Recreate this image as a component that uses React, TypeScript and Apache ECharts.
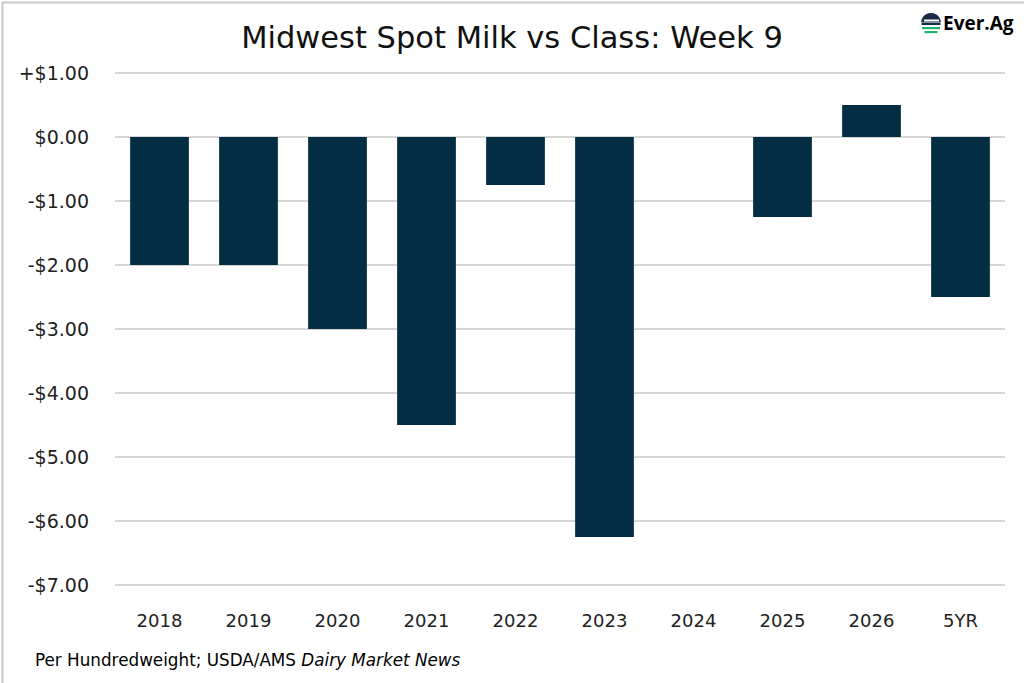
import React, { useEffect, useRef } from "react";
import * as echarts from "echarts";

const categories = ["2018", "2019", "2020", "2021", "2022", "2023", "2024", "2025", "2026", "5YR"];
const values = [-2.0, -2.0, -3.0, -4.5, -0.75, -6.25, 0, -1.25, 0.5, -2.5];
const yTicks = { min: -7, max: 1, interval: 1 };
const titleText = "Midwest Spot Milk vs Class: Week 9";
const sourcePlain = "Per Hundredweight; USDA/AMS ";
const sourceItalic = "Dairy Market News";

const FONT = "'DejaVu Sans', 'Open Sans', sans-serif";

function fmt(v: number): string {
  if (v > 0) return "+$" + v.toFixed(2);
  if (v < 0) return "-$" + Math.abs(v).toFixed(2);
  return "$0.00";
}

export default function App() {
  const ref = useRef<HTMLDivElement>(null);
  useEffect(() => {
    document.body.style.margin = "0";
    if (!ref.current) return;
    const chart = echarts.init(ref.current, null, { renderer: "svg" });
    chart.setOption({
      animation: false,
      backgroundColor: "#ffffff",
      title: {
        text: titleText,
        left: "center",
        top: 17,
        textStyle: { fontFamily: FONT, fontSize: 30.5, fontWeight: "normal", color: "#111" },
      },
      grid: { left: 115, right: 19, top: 73, bottom: 98, containLabel: false },
      xAxis: {
        type: "category",
        data: categories,
        axisLine: { show: false },
        axisTick: { show: false },
        axisLabel: { fontFamily: FONT, fontSize: 18, color: "#222", margin: 26 },
      },
      yAxis: {
        type: "value",
        min: yTicks.min,
        max: yTicks.max,
        interval: yTicks.interval,
        axisLine: { show: false },
        axisTick: { show: false },
        splitLine: { lineStyle: { color: "#c9c9c9", width: 1.5 } },
        axisLabel: { fontFamily: FONT, fontSize: 19, color: "#222", margin: 26, formatter: fmt },
      },
      series: [
        {
          type: "bar",
          data: values,
          barCategoryGap: "34%",
          itemStyle: { color: "#032d42" },
        },
      ],
      graphic: [
        {
          type: "rect",
          left: 0,
          top: 0,
          shape: { x: 0, y: 0, width: 1023, height: 682 },
          style: { fill: "none", stroke: "#c8c8c8", lineWidth: 2 },
          silent: true,
        },
        {
          type: "text",
          left: 35,
          top: 651,
          style: {
            text: "{a|" + sourcePlain + "}{b|" + sourceItalic + "}",
            rich: {
              a: { fontFamily: FONT, fontSize: 16.8, color: "#222" },
              b: { fontFamily: FONT, fontSize: 16.8, color: "#222", fontStyle: "italic" },
            },
          },
        },
        {
          type: "group",
          left: 921,
          top: 13,
          children: [
            { type: "circle", shape: { cx: 10, cy: 11, r: 10 }, style: { fill: "#1a2a44" } },
            { type: "rect", shape: { x: 0, y: 10, width: 21, height: 12 }, style: { fill: "#ffffff" } },
            { type: "rect", shape: { x: 3, y: 7.5, width: 15, height: 2 }, style: { fill: "#ffffff" } },
            { type: "rect", shape: { x: 0.5, y: 10.5, width: 19, height: 2.5 }, style: { fill: "#1a2a44" } },
            { type: "rect", shape: { x: 1, y: 15, width: 18, height: 2.2 }, style: { fill: "#21b26b" } },
            { type: "rect", shape: { x: 3.5, y: 19, width: 13, height: 2.2 }, style: { fill: "#21b26b" } },
            {
              type: "text",
              x: 22,
              y: 1,
              style: {
                text: "{a|Ever}{b|.Ag}",
                rich: {
                  a: { fontFamily: "'Open Sans', sans-serif", fontSize: 19, fontWeight: "bold", color: "#1a2a44" },
                  b: { fontFamily: "'Open Sans', sans-serif", fontSize: 19, fontWeight: "bold", color: "#21b26b" },
                },
              },
            },
          ],
        },
      ],
    });
    return () => chart.dispose();
  }, []);
  return <div ref={ref} style={{ width: 1024, height: 683 }} />;
}
